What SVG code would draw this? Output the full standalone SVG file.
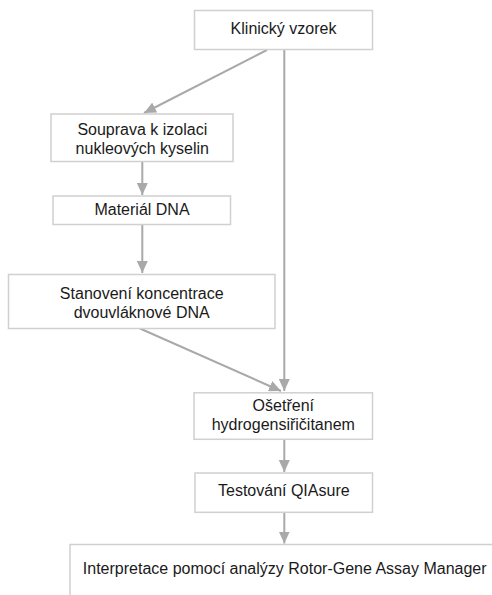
<svg xmlns="http://www.w3.org/2000/svg" width="492" height="595" viewBox="0 0 492 595">
<style>
.box{fill:#fff;stroke:#d0d0d0;stroke-width:1.5}
.t{font-family:"Liberation Sans",Arial,sans-serif;font-size:16px;fill:#1a1a1a;text-anchor:middle}
.c{stroke:#a9a9a9;stroke-width:2;fill:none;marker-end:url(#ah)}
</style>
<defs>
<marker id="ah" markerUnits="userSpaceOnUse" markerWidth="13" markerHeight="11" refX="12" refY="5.5" orient="auto" viewBox="0 0 13 11">
<path d="M0,0 L12,5.5 L0,11 z" fill="#a9a9a9"/>
</marker>
</defs>
<rect width="492" height="595" fill="#fff"/>
<g id="connectors">
<line class="c" x1="267" y1="50" x2="144" y2="113"/>
<line class="c" x1="284.3" y1="50" x2="284.3" y2="391"/>
<line class="c" x1="142.3" y1="162" x2="142.3" y2="195"/>
<line class="c" x1="142.3" y1="225" x2="142.3" y2="273"/>
<line class="c" x1="140" y1="328.5" x2="281" y2="391"/>
<line class="c" x1="284.3" y1="440" x2="284.3" y2="472"/>
<line class="c" x1="284.3" y1="513" x2="284.3" y2="543.5"/>
</g>
<g id="n1"><rect class="box" x="194.5" y="10.5" width="178" height="39"/><text class="t" x="283.5" y="33.5">Klinický vzorek</text></g>
<g id="n2"><rect class="box" x="51" y="114" width="182" height="47.5"/><text class="t" x="142.3" y="135">Souprava k izolaci</text><text class="t" x="142.3" y="153.5">nukleových kyselin</text></g>
<g id="n3"><rect class="box" x="53" y="196" width="177.5" height="28.5"/><text class="t" x="142" y="214.5">Materiál DNA</text></g>
<g id="n4"><rect class="box" x="8.5" y="274.5" width="266.5" height="54"/><text class="t" x="141.7" y="299.3">Stanovení koncentrace</text><text class="t" x="141.7" y="318.3">dvouvláknové DNA</text></g>
<g id="n5"><rect class="box" x="194" y="392.8" width="178.5" height="46.5"/><text class="t" x="283.3" y="410.7">Ošetření</text><text class="t" x="283.3" y="430">hydrogensiřičitanem</text></g>
<g id="n6"><rect class="box" x="195" y="473" width="177.5" height="39.3"/><text class="t" x="283.8" y="496">Testování QIAsure</text></g>
<g id="n7"><rect class="box" x="70" y="544.5" width="440" height="80"/><text class="t" x="284.7" y="574.3">Interpretace pomocí analýzy Rotor-Gene Assay Manager</text></g>
</svg>
